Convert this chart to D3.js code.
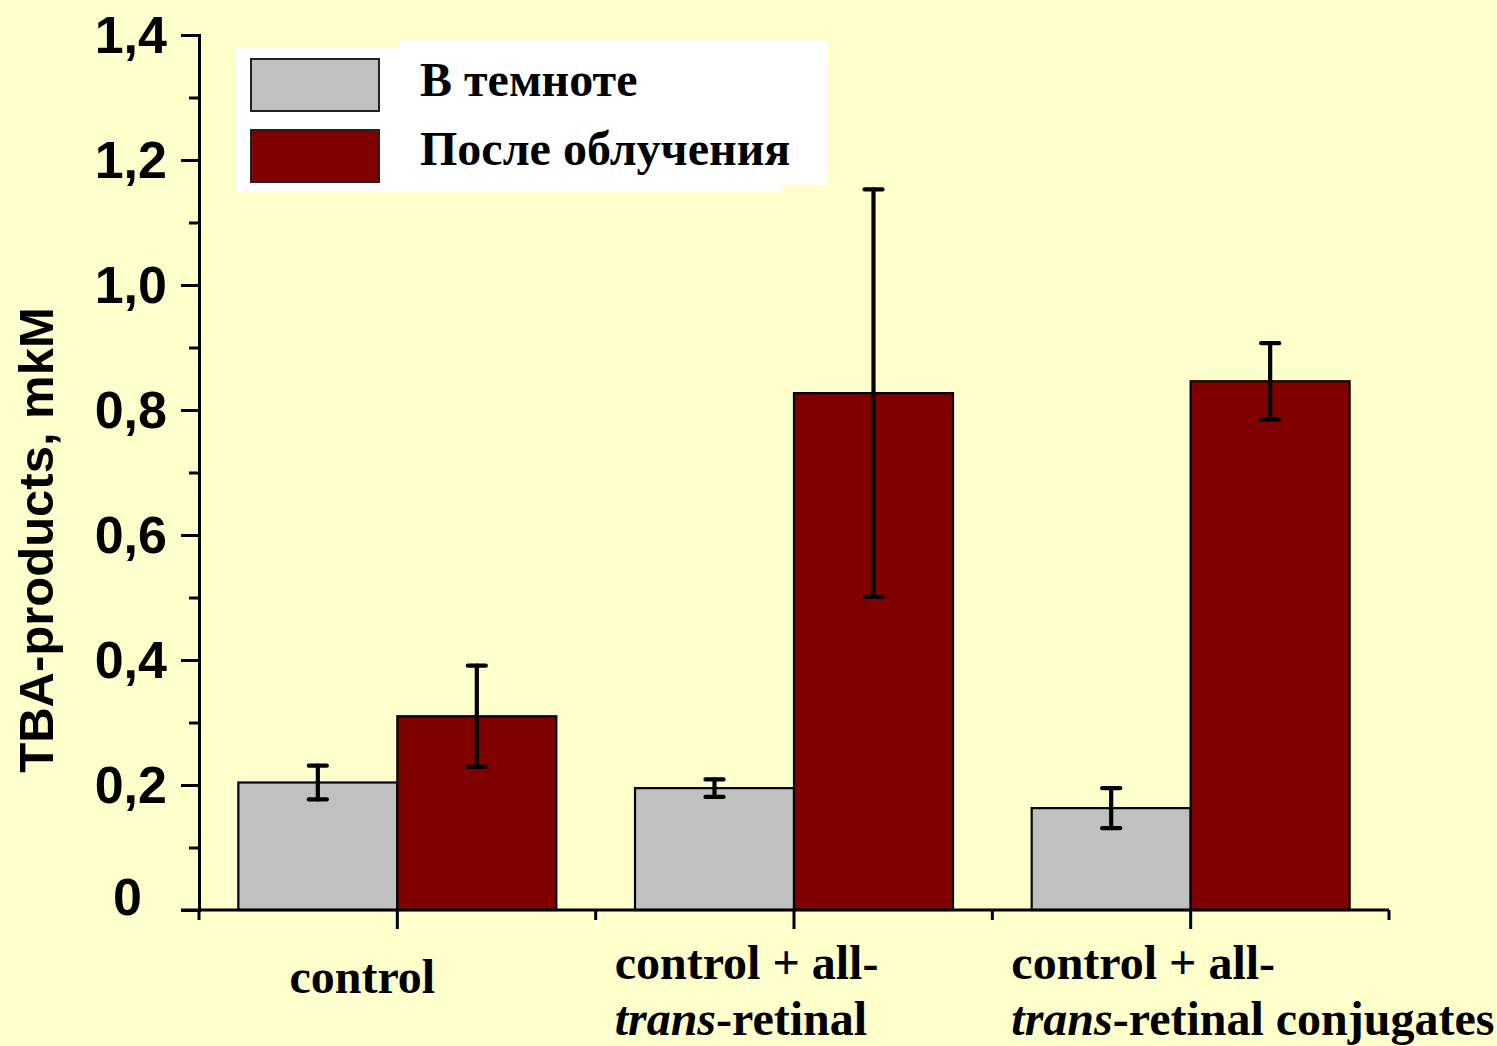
<!DOCTYPE html>
<html>
<head>
<meta charset="utf-8">
<script src="https://cdn.jsdelivr.net/npm/d3@7"></script>
<style>
  html, body { margin: 0; padding: 0; background: #ffffcc; }
  svg { display: block; }
</style>
</head>
<body>
<svg id="chart" width="1497" height="1046"></svg>
<script>
// ---- data ----
const categories = ["control", "control + all-trans-retinal", "control + all-trans-retinal conjugates"];
const seriesNames = ["В темноте", "После облучения"];
const darkValues = [0.204, 0.195, 0.163];
const darkErrors = [0.027, 0.014, 0.032];
const lightValues = [0.310, 0.827, 0.846];
const lightErrors = [0.081, 0.326, 0.061];
const yTicks = [0, 0.2, 0.4, 0.6, 0.8, 1.0, 1.2, 1.4];
const yMinorTicks = [0.1, 0.3, 0.5, 0.7, 0.9, 1.1, 1.3];
const categoryLabelLines = [
  [[{ t: "control" }]],
  [[{ t: "control + all-" }], [{ t: "trans", i: true }, { t: "-retinal" }]],
  [[{ t: "control + all-" }], [{ t: "trans", i: true }, { t: "-retinal conjugates" }]]
];
const yTitle = "TBA-products, mkM";
const colors = ["#c0c0c0", "#800000"];

// ---- layout ----
const svg = d3.select("#chart");
svg.append("rect").attr("width", 1497).attr("height", 1046).attr("fill", "#ffffcc");

const x0 = d3.scaleBand().domain(categories).range([199, 1389]).paddingInner(0).paddingOuter(0);
const x1 = d3.scaleBand().domain(seriesNames).range([0, x0.bandwidth()]).paddingInner(0).paddingOuter(0.2475);
const y = d3.scaleLinear().domain([0, 1.4]).range([910, 35]);

const rows = categories.map((c, i) => ({
  cat: c,
  vals: [
    { s: seriesNames[0], v: darkValues[i], e: darkErrors[i], c: colors[0] },
    { s: seriesNames[1], v: lightValues[i], e: lightErrors[i], c: colors[1] }
  ]
}));

// ---- bars ----
const groups = svg.append("g").selectAll("g").data(rows).join("g")
  .attr("transform", d => `translate(${x0(d.cat)},0)`);

groups.selectAll("rect").data(d => d.vals).join("rect")
  .attr("x", d => x1(d.s))
  .attr("y", d => y(d.v))
  .attr("width", x1.bandwidth())
  .attr("height", d => y(0) - y(d.v))
  .attr("fill", d => d.c)
  .attr("stroke", "#000")
  .attr("stroke-width", 2.2);

// ---- error bars ----
const eb = groups.selectAll("g.err").data(d => d.vals).join("g").attr("class", "err")
  .attr("stroke", "#000").attr("stroke-width", 4.2).attr("stroke-linecap", "round");
eb.append("line")
  .attr("x1", d => x1(d.s) + x1.bandwidth() / 2)
  .attr("x2", d => x1(d.s) + x1.bandwidth() / 2)
  .attr("y1", d => y(d.v + d.e))
  .attr("y2", d => y(d.v - d.e));
eb.append("line")
  .attr("x1", d => x1(d.s) + x1.bandwidth() / 2 - 9)
  .attr("x2", d => x1(d.s) + x1.bandwidth() / 2 + 9)
  .attr("y1", d => y(d.v + d.e))
  .attr("y2", d => y(d.v + d.e));
eb.append("line")
  .attr("x1", d => x1(d.s) + x1.bandwidth() / 2 - 9)
  .attr("x2", d => x1(d.s) + x1.bandwidth() / 2 + 9)
  .attr("y1", d => y(d.v - d.e))
  .attr("y2", d => y(d.v - d.e));

// ---- y axis ----
const fmt = d => d === 0 ? "0" : d3.format(".1f")(d).replace(".", ",");
const yAxis = svg.append("g").attr("transform", "translate(199,0)")
  .call(d3.axisLeft(y).tickValues(yTicks).tickSize(18).tickPadding(14).tickFormat(fmt));
yAxis.select(".domain").attr("stroke-width", 3);
yAxis.selectAll(".tick line").attr("stroke-width", 3);
yAxis.selectAll(".tick text")
  .attr("font-family", "'Liberation Sans', Arial, sans-serif")
  .attr("font-weight", "bold")
  .attr("font-size", 52)
  .attr("fill", "#000")
  .attr("dy", "0.33em");
yAxis.selectAll(".tick").filter(d => d === 0).select("text")
  .attr("x", -57).attr("dy", "0.08em");

const yMinor = svg.append("g").attr("transform", "translate(199,0)")
  .call(d3.axisLeft(y).tickValues(yMinorTicks).tickSize(10).tickFormat(""));
yMinor.select(".domain").remove();
yMinor.selectAll(".tick line").attr("stroke-width", 3);

// ---- x axis ----
const xAxis = svg.append("g").attr("transform", `translate(0,${y(0)})`)
  .call(d3.axisBottom(x0).tickSize(19).tickFormat(""));
xAxis.select(".domain").remove();
xAxis.selectAll(".tick line").attr("stroke-width", 3);
xAxis.append("line").attr("x1", 181).attr("x2", x0.range()[1]).attr("y1", 0).attr("y2", 0)
  .attr("stroke", "#000").attr("stroke-width", 3);
const edges = categories.map(c => x0(c)).concat([x0.range()[1]]);
xAxis.selectAll("line.edge").data(edges).join("line").attr("class", "edge")
  .attr("x1", d => d).attr("x2", d => d).attr("y1", 0).attr("y2", 10)
  .attr("stroke", "#000").attr("stroke-width", 3);

// ---- category labels ----
const labG = svg.append("g")
  .attr("font-family", "'Liberation Serif', 'Times New Roman', serif")
  .attr("font-weight", "bold")
  .attr("font-size", 48)
  .attr("fill", "#000");
categoryLabelLines.forEach((lines, i) => {
  const cat = categories[i];
  const single = lines.length === 1;
  lines.forEach((segs, li) => {
    const t = labG.append("text")
      .attr("x", single ? x0(cat) + x0.bandwidth() / 2 - 35 : x0(cat) + 19)
      .attr("y", single ? 993 : 979 + li * 56)
      .attr("text-anchor", single ? "middle" : "start");
    segs.forEach(s => {
      t.append("tspan").text(s.t).attr("font-style", s.i ? "italic" : "normal");
    });
  });
});

// ---- y title ----
svg.append("text")
  .attr("transform", "translate(53,540) rotate(-90)")
  .attr("text-anchor", "middle")
  .attr("font-family", "'Liberation Sans', Arial, sans-serif")
  .attr("font-weight", "bold")
  .attr("font-size", 49)
  .attr("fill", "#000")
  .text(yTitle);

// ---- legend ----
const leg = svg.append("g");
leg.append("rect").attr("x", 236).attr("y", 47).attr("width", 546).attr("height", 145).attr("fill", "#fff");
leg.append("rect").attr("x", 399).attr("y", 39).attr("width", 429).attr("height", 146).attr("fill", "#fff");
const legItems = leg.selectAll("g.item").data(seriesNames).join("g").attr("class", "item")
  .attr("transform", (d, i) => `translate(0,${i * 71})`);
legItems.append("rect")
  .attr("x", 251).attr("y", 59).attr("width", 128).attr("height", 52)
  .attr("fill", (d, i) => colors[i])
  .attr("stroke", "#222").attr("stroke-width", 2);
legItems.append("text")
  .attr("x", 420).attr("y", (d, i) => 96 - i * 2)
  .attr("font-family", "'Liberation Serif', 'Times New Roman', serif")
  .attr("font-weight", "bold")
  .attr("font-size", 48)
  .attr("fill", "#000")
  .text(d => d);
</script>
</body>
</html>
